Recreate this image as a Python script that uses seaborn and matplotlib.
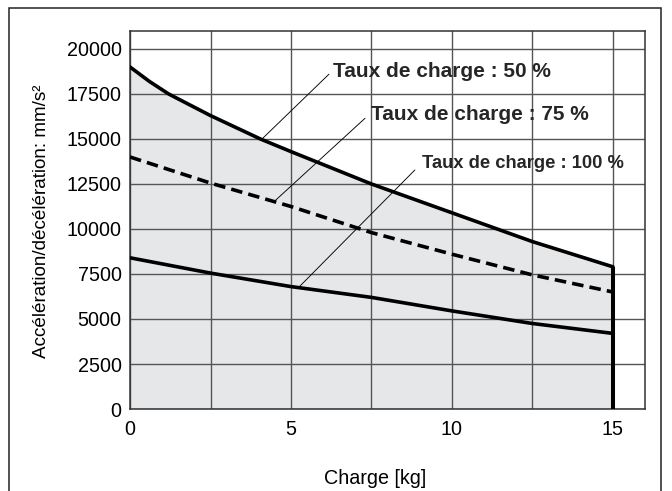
import matplotlib
matplotlib.use("Agg")
import matplotlib.pyplot as plt
from matplotlib.patches import Rectangle
from matplotlib.ticker import MultipleLocator
import seaborn as sns
import pandas as pd

# Charge (kg) and allowable acceleration/deceleration (mm/s²) per duty ratio
load_50 = [0, 0.6, 1.2, 2.5, 4.05, 5, 7.5, 10, 12.5, 15]
accel_50 = [19000, 18200, 17500, 16300, 15000, 14300, 12500, 10900, 9300, 7900]
load = [0, 2.5, 5, 7.5, 10, 12.5, 15]
accel_75 = [14000, 12550, 11250, 9800, 8600, 7450, 6500]
accel_100 = [8400, 7550, 6800, 6200, 5450, 4750, 4200]

labels = ["Taux de charge : 50 %", "Taux de charge : 75 %", "Taux de charge : 100 %"]
# leader line: point on curve -> start of label
leader_x = [(4.1, 6.18), (4.45, 7.30), (5.28, 8.85)]
leader_y = [(15000, 18600), (11480, 16150), (6830, 13280)]
label_pos = [(6.30, 18750), (7.50, 16380), (9.08, 13640)]
label_sizes = [15, 15, 13.2]

x_ticks = [0, 5, 10, 15]
y_ticks = [0, 2500, 5000, 7500, 10000, 12500, 15000, 17500, 20000]

sns.set_theme(style="white")
plt.rcParams["font.family"] = ["Liberation Sans", "DejaVu Sans"]

fig = plt.figure(figsize=(6.72, 4.91), dpi=100)
ax = fig.add_axes([0.1935, 0.167, 0.7664, 0.7699])

df50 = pd.DataFrame({"x": load_50, "y": accel_50})
df = pd.DataFrame({"x": load, "y75": accel_75, "y100": accel_100})

ax.fill_between(load_50, 0, accel_50, color="#e6e7e9", zorder=0.5, lw=0)

sns.lineplot(data=df50, x="x", y="y", ax=ax, color="black", lw=2.6, zorder=3)
sns.lineplot(data=df, x="x", y="y75", ax=ax, color="black", lw=2.6,
             linestyle=(0, (3.2, 1.7)), zorder=3)
sns.lineplot(data=df, x="x", y="y100", ax=ax, color="black", lw=2.6, zorder=3)
# load limit at the maximum charge
ax.plot([load_50[-1], load_50[-1]], [0, accel_50[-1]], color="black",
        lw=2.9, solid_capstyle="butt", zorder=3)

for lx, ly in zip(leader_x, leader_y):
    ax.plot(lx, ly, color="black", lw=0.65, zorder=2.5)

for txt, (tx, ty), fs in zip(labels, label_pos, label_sizes):
    ax.text(tx, ty, txt, fontsize=fs, fontweight="bold", ha="left",
            va="center", zorder=4)

ax.set_xlim(0, 16)
ax.set_ylim(0, 21000)
ax.set_xticks(x_ticks)
ax.set_yticks(y_ticks)
ax.xaxis.set_minor_locator(MultipleLocator(2.5))
ax.grid(True, which="both", color="#555555", lw=1.0, zorder=1)
ax.set_axisbelow(True)
ax.tick_params(axis="both", which="both", length=0, labelsize=14.2,
               labelcolor="black")
ax.tick_params(axis="x", pad=8)
ax.tick_params(axis="y", pad=6)

for s in ax.spines.values():
    s.set_color("#333333")
    s.set_linewidth(1.1)

ax.set_xlabel("Charge [kg]", fontsize=14.2, color="black")
ax.set_ylabel("Accélération/décélération: mm/s²", fontsize=13.6, color="black")
ax.xaxis.set_label_coords(0.476, -0.158)
ax.yaxis.set_label_coords(-0.155, 0.496)

fig.patches.append(Rectangle((9 / 672, -0.05), (661 - 9) / 672, 1.05 - 8 / 491,
                             transform=fig.transFigure, fill=False,
                             ec="#222222", lw=1.1))

fig.savefig("out.png", dpi=100)
